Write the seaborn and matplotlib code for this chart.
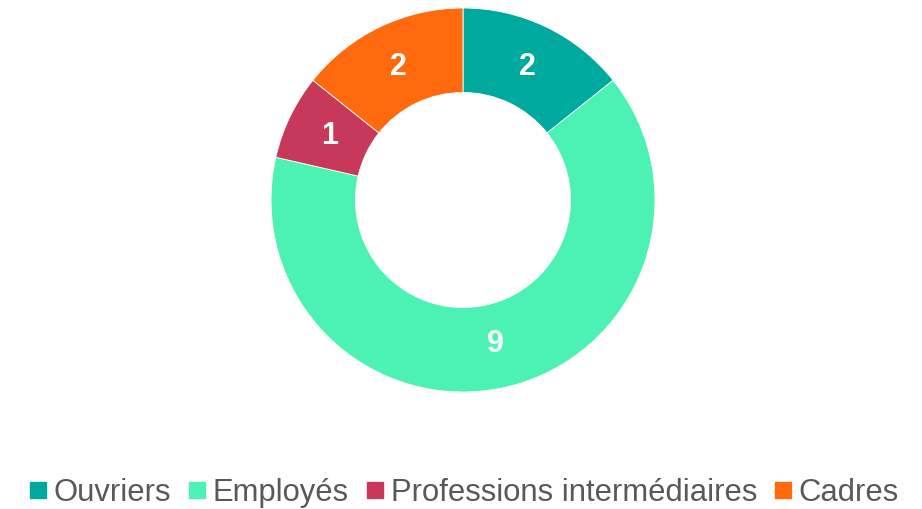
import matplotlib
matplotlib.use("Agg")
import matplotlib.pyplot as plt
import seaborn as sns
import numpy as np
from matplotlib.lines import Line2D

categories = ["Ouvriers", "Employés", "Professions intermédiaires", "Cadres"]
values = [2, 9, 1, 2]
colors = ["#00A99D", "#4BF2B4", "#C8385A", "#FF6A0E"]

sns.set_theme(style="white")
plt.rcParams['font.family'] = ['Liberation Sans', 'DejaVu Sans']

fig = plt.figure(figsize=(9.22, 5.09), dpi=100)
# axe carré centré sur l'anneau
r_px = 192
cx, cy = 463, 200
ax = fig.add_axes([(cx - r_px) / 922, (509 - cy - r_px) / 509, 2 * r_px / 922, 2 * r_px / 509])

wedges, texts = ax.pie(values, colors=colors, startangle=90, counterclock=False,
                       radius=1, wedgeprops=dict(width=0.44, edgecolor="white", linewidth=0.6))
ax.set_xlim(-1, 1)
ax.set_ylim(-1, 1)
ax.set_aspect("equal")
ax.axis("off")

# étiquettes au milieu de l'anneau
for v, w in zip(values, wedges):
    mid = np.deg2rad((w.theta1 + w.theta2) / 2)
    ax.text(0.77 * np.cos(mid), 0.77 * np.sin(mid), str(v), ha="center", va="center",
            color="white", fontsize=22, fontweight="bold")

handles = [Line2D([0], [0], marker="s", linestyle="", markersize=12,
                  markerfacecolor=c, markeredgecolor=c) for c in colors]
fig.legend(handles, categories, loc="center", bbox_to_anchor=(0.503, 0.032), ncol=4,
           frameon=False, fontsize=22.3, labelcolor="#595959", handlelength=0.6,
           handletextpad=0.2, columnspacing=0.55, borderpad=0)

plt.savefig("out.png", dpi=100)
plt.close()
